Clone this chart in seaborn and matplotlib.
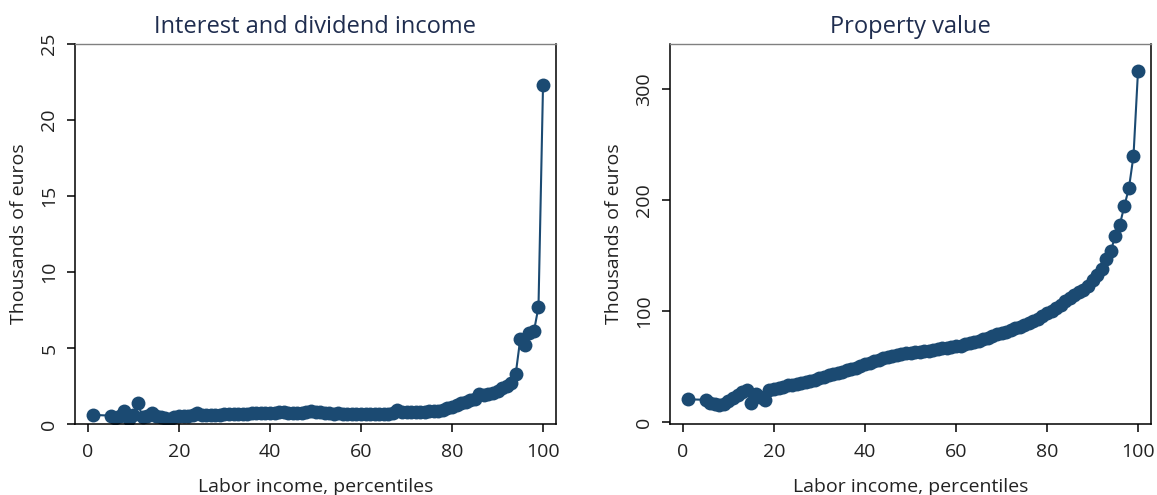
import numpy as np
import pandas as pd
import matplotlib
matplotlib.use("Agg")
import matplotlib.pyplot as plt
import seaborn as sns

# ---- data ----
percentiles = [1] + list(range(5, 101))

interest_income = [
    0.6,
    0.55, 0.4, 0.5, 0.85, 0.35, 0.6, 1.35, 0.45, 0.55, 0.7,
    0.55, 0.45, 0.4, 0.3, 0.45, 0.5, 0.55, 0.55, 0.6, 0.75,
    0.6, 0.6, 0.6, 0.62, 0.62, 0.64, 0.64, 0.66, 0.66, 0.68,
    0.68, 0.7, 0.72, 0.72, 0.74, 0.74, 0.75, 0.8, 0.76, 0.74,
    0.74, 0.72, 0.74, 0.76, 0.85, 0.8, 0.76, 0.72, 0.7, 0.68,
    0.7, 0.68, 0.68, 0.66, 0.66, 0.66, 0.65, 0.64, 0.64, 0.64,
    0.64, 0.66, 0.75, 0.9, 0.78, 0.76, 0.76, 0.78, 0.8, 0.82,
    0.85, 0.86, 0.88, 0.95, 1.05, 1.15, 1.25, 1.35, 1.45, 1.55,
    1.65, 1.95, 1.9, 1.95, 2.05, 2.2, 2.35, 2.5, 2.7, 3.3,
    5.6, 5.2, 6.0, 6.1, 7.7, 22.3,
]

property_value = [
    20.5,
    20, 17, 16, 15.5, 16, 19, 22, 24, 27, 29,
    17, 25, 23, 19.5, 28.5, 30, 31, 32, 33, 33.5,
    34.5, 35.5, 36.5, 37, 38, 40, 41, 42, 43, 44,
    45, 46.5, 48, 49, 50.5, 52, 53.5, 55, 56, 57.5,
    58.5, 59.5, 60.5, 61, 62, 62.5, 63, 63.5, 64, 64.5,
    65, 65.5, 66.5, 67, 68, 68.5, 69, 70, 71, 72,
    73.5, 74.5, 76, 77.5, 79, 80, 81.5, 83, 84.5, 86,
    87.5, 89, 91, 93, 95.5, 98, 100, 103, 106, 109,
    112, 115, 117, 119, 123, 128, 133, 138, 147, 154,
    168, 178, 195, 211, 240, 317,
]

titles = ["Interest and dividend income", "Property value"]
x_label = "Labor income, percentiles"
y_label = "Thousands of euros"
x_ticks = [0, 20, 40, 60, 80, 100]
y_ticks_left = [0, 5, 10, 15, 20, 25]
y_ticks_right = [0, 100, 200, 300]

# ---- style ----
sns.set_theme(style="white")
plt.rcParams["font.family"] = ["Open Sans", "DejaVu Sans"]

mark_color = "#1b4a72"
title_color = "#1f2d4f"
text_color = "#222222"

fig = plt.figure(figsize=(11.57, 4.95), dpi=100)
W, H = 1157, 495

def px_axes(l, t, r, b):
    return fig.add_axes([l / W, 1 - b / H, (r - l) / W, (b - t) / H])

ax1 = px_axes(75, 44, 556, 424)
ax2 = px_axes(670, 44, 1151, 424)

df1 = pd.DataFrame({"pct": percentiles, "val": interest_income})
df2 = pd.DataFrame({"pct": percentiles, "val": property_value})

for ax, df, title, yt, ylim in [
    (ax1, df1, titles[0], y_ticks_left, (0, 25)),
    (ax2, df2, titles[1], y_ticks_right, (-1.8, 341)),
]:
    sns.lineplot(data=df, x="pct", y="val", ax=ax, color=mark_color,
                 marker="o", markersize=10, markeredgewidth=0,
                 linewidth=1.5, markeredgecolor=mark_color)
    ax.set_xlim(-2.85, 102.85)
    ax.set_ylim(*ylim)
    ax.set_xticks(x_ticks)
    ax.set_yticks(yt)
    ax.set_xticklabels([str(v) for v in x_ticks], fontsize=14,
                       color=text_color)
    ax.set_yticklabels([str(v) for v in yt], fontsize=14, rotation=90,
                       va="center", color=text_color)
    ax.tick_params(axis="x", pad=8)
    ax.tick_params(axis="y", pad=6)
    ax.tick_params(axis="both", direction="out", length=6, width=1.1,
                   color="black", bottom=True, left=True)
    ax.set_xlabel(x_label, fontsize=14, labelpad=12, color=text_color)
    ax.set_ylabel(y_label, fontsize=14, labelpad=9, color=text_color)
    ax.set_title(title, fontsize=17, color=title_color, pad=8)
    for s in ["left", "bottom", "right"]:
        ax.spines[s].set_visible(True)
        ax.spines[s].set_color("black")
        ax.spines[s].set_linewidth(1.1)
    ax.spines["top"].set_visible(True)
    ax.spines["top"].set_color("#808080")
    ax.spines["top"].set_linewidth(1.0)
    ax.grid(False)

fig.savefig("out.png", dpi=100, facecolor="white")
